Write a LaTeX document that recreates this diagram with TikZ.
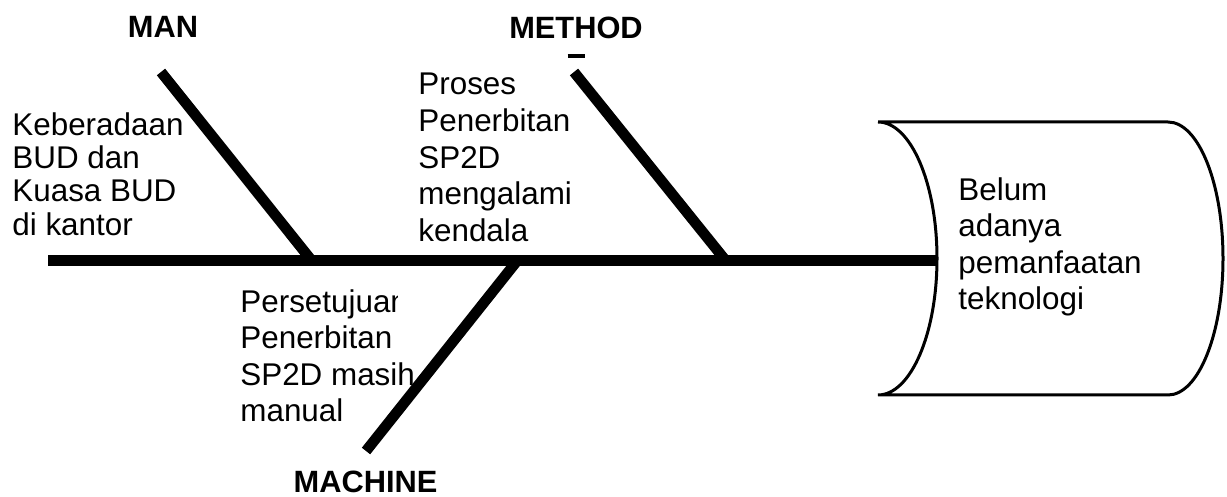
\documentclass[tikz,border=0pt]{standalone}
\usepackage{fontspec}
\setmainfont{Liberation Sans}
\usepackage{tikz}
\usetikzlibrary{calc}
\tikzset{
  bone/.style={line width=5.3pt},
  cause/.style={anchor=north west,inner sep=0pt,align=left,font=\fontsize{15.7}{18.3}\selectfont},
  category/.style={inner sep=0pt,font=\bfseries\fontsize{15.4}{18}\selectfont}
}

\begin{document}
\begin{tikzpicture}[x=0.5pt,y=0.5pt]
\useasboundingbox (0,0) rectangle (1227,497);
% head of the fish
\draw [line width=1.5pt] (878,375) -- (1168,375)
  arc [start angle=90,end angle=-90,x radius=55,y radius=136.5]
  -- (878,102)
  arc [start angle=-90,end angle=90,x radius=59,y radius=136.5];
\coordinate (tail) at (48,236);
\coordinate (head) at (937,236);
\node [cause] (effect) at (958,320) {Belum\\adanya\\pemanfaatan\\teknologi};
% bones
\coordinate (manTop) at (161,425);
\coordinate (manJoin) at (312,236);
\coordinate (methodTop) at (574,425);
\coordinate (methodJoin) at (726,236);
\coordinate (machineEnd) at (366,46);
\coordinate (machineJoin) at (517,236);
\draw [line width=5.5pt] (tail) -- (head);
\draw [bone] (manTop) -- (manJoin);
\draw [bone] (methodTop) -- (methodJoin);
\node [category] (man) at (163,470) {MAN};
\node [category] (method) at (576,469.5) {METHOD};
\draw [line width=1.8pt] ($(method)+(-8.5,-28.5)$) -- ($(method)+(8.5,-28.5)$);
\node [category] (machine) at (365.5,15) {MACHINE};
% causes
\node [cause,font=\fontsize{15.7}{16.7}\selectfont] (manCause) at (12,385)
  {Keberadaan\\BUD dan\\Kuasa BUD\\di kantor};
\node [cause] (methodCause) at (418,424)
  {Proses\\Penerbitan\\SP2D\\mengalami\\kendala};
\begin{scope}
\clip (230,215) -- (397,215) -- (397,176) -- (445,176) -- (445,50) -- (230,50) -- cycle;
\node [cause] (machineCause) at (240,208)
  {Persetujuan\\Penerbitan\\SP2D masih\\manual};
\end{scope}
\draw [bone] (machineJoin) -- (machineEnd);
\end{tikzpicture}
\end{document}
